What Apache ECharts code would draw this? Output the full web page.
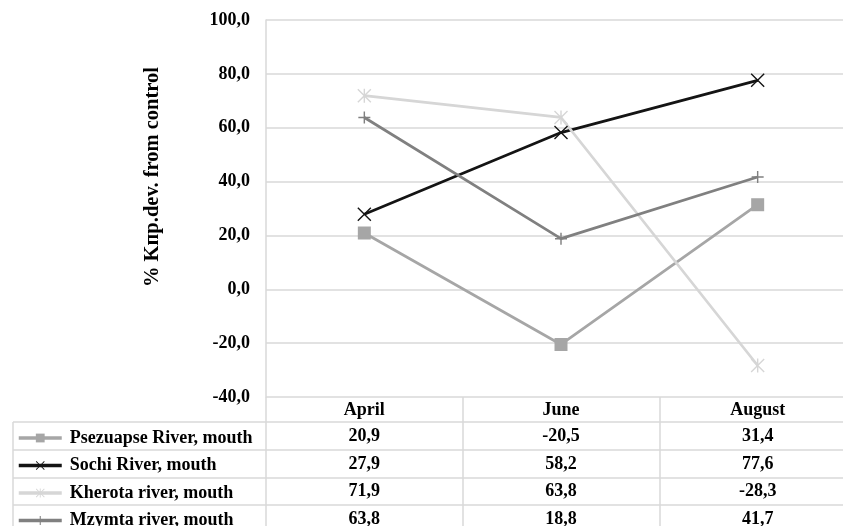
<!DOCTYPE html>
<html>
<head>
<meta charset="utf-8">
<script src="https://cdn.jsdelivr.net/npm/echarts@6/dist/echarts.min.js"></script>
<style>
  html, body { margin: 0; padding: 0; background: #fff; }
  #chart { width: 843px; height: 526px; }
</style>
</head>
<body>
<div id="chart"></div>
<script>
// Months (table columns) and station series
const months = ['April', 'June', 'August'];
const seriesNames = [
  'Psezuapse River, mouth',
  'Sochi River, mouth',
  'Kherota river, mouth',
  'Mzymta river, mouth'
];
const psezuapse = [20.9, -20.5, 31.4];
const sochi = [27.9, 58.2, 77.6];
const kherota = [71.9, 63.8, -28.3];
const mzymta = [63.8, 18.8, 41.7];
const yTicks = { min: -40, max: 100, step: 20 };
const yTitle = '% Kпр.dev. from control';

const seriesValues = [psezuapse, sochi, kherota, mzymta];
const seriesColors = ['#a6a6a6', '#141414', '#d6d6d6', '#808080'];

// Marker shapes
const SYM_X = 'path://M0,1.4L1.4,0L10,8.6L18.6,0L20,1.4L11.4,10L20,18.6L18.6,20L10,11.4L1.4,20L0,18.6L8.6,10Z';
const SYM_PLUS = 'path://M8.8,0L11.2,0L11.2,8.8L20,8.8L20,11.2L11.2,11.2L11.2,20L8.8,20L8.8,11.2L0,11.2L0,8.8L8.8,8.8Z';
const SYM_STAR = 'path://M0,1.4L1.4,0L10,8.6L18.6,0L20,1.4L11.4,10L20,18.6L18.6,20L10,11.4L1.4,20L0,18.6L8.6,10Z M9,0L11,0L11,20L9,20Z';
const symbols = ['rect', SYM_X, SYM_STAR, SYM_PLUS];
const symbolSizes = [13, 14, 14, 12];

const fmt = v => v.toFixed(1).replace('.', ',');
const FONT = 'Liberation Serif';
const FONT_SIZE = 18;
const GRID_LINE = '#d9d9d9';

// Layout of the plot and the data table below it
const PLOT_LEFT = 266, PLOT_TOP = 20, PLOT_BOTTOM_Y = 397, PLOT_WIDTH = 590;
const rowCenters = [436.5, 464, 491.5, 519];
const rowLines = [422, 450, 478, 505];

const chart = echarts.init(document.getElementById('chart'), null, { renderer: 'canvas' });

const labelFont = { fontFamily: FONT, fontWeight: 'bold', fontSize: FONT_SIZE, color: '#000' };

// Category axis for the header row, and one line-less axis per table row
const xAxes = [{
  type: 'category',
  data: months,
  position: 'bottom',
  boundaryGap: true,
  axisLine: { show: false, onZero: false },
  axisTick: { show: true, length: 130, lineStyle: { color: GRID_LINE, width: 1.5 } },
  axisLabel: Object.assign({ interval: 0, margin: 13, verticalAlign: 'middle' }, labelFont)
}];
seriesValues.forEach((vals, i) => {
  xAxes.push({
    type: 'category',
    data: vals.map(fmt),
    position: 'bottom',
    offset: 0,
    boundaryGap: true,
    axisLine: { show: false, onZero: false },
    axisTick: { show: false },
    splitLine: { show: false },
    axisLabel: Object.assign({
      interval: 0, margin: rowCenters[i] - PLOT_BOTTOM_Y, verticalAlign: 'middle'
    }, labelFont)
  });
});

const graphics = [
  {
    type: 'text', x: 153, y: 177, rotation: Math.PI / 2,
    style: {
      text: yTitle, x: 0, y: 0, align: 'center', verticalAlign: 'middle',
      font: 'bold 20.5px "Liberation Serif"', fill: '#000'
    }
  },
  {
    type: 'line', shape: { x1: 13, y1: rowLines[0], x2: 13, y2: 526 },
    style: { stroke: GRID_LINE, lineWidth: 1.5 }
  }
];
rowLines.forEach(y => {
  graphics.push({
    type: 'line', shape: { x1: 13, y1: y, x2: 843, y2: y },
    style: { stroke: GRID_LINE, lineWidth: 1.5 }
  });
});

const option = {
  backgroundColor: '#fff',
  animation: false,
  grid: {
    left: PLOT_LEFT, top: PLOT_TOP, width: PLOT_WIDTH,
    height: PLOT_BOTTOM_Y - PLOT_TOP,
    containLabel: false, outerBoundsMode: 'none'
  },
  legend: {
    orient: 'vertical',
    left: 17, top: rowCenters[0] - 7.5,
    height: 200,
    padding: 0,
    itemWidth: 43, itemHeight: 11,
    itemGap: 9.5,
    data: seriesNames,
    lineStyle: { width: 3.5 },
    textStyle: Object.assign({ padding: [0, 0, 0, 3] }, labelFont)
  },
  xAxis: xAxes,
  yAxis: {
    type: 'value',
    min: yTicks.min, max: yTicks.max, interval: yTicks.step,
    axisLine: { show: true, lineStyle: { color: GRID_LINE, width: 1.5 } },
    axisTick: { show: false },
    splitLine: { show: true, lineStyle: { color: GRID_LINE, width: 1.5 } },
    axisLabel: Object.assign({ margin: 16, formatter: fmt }, labelFont)
  },
  graphic: graphics,
  series: seriesNames.map((name, i) => ({
    name,
    type: 'line',
    xAxisIndex: 0,
    data: seriesValues[i],
    symbol: symbols[i],
    symbolSize: symbolSizes[i],
    showAllSymbol: true,
    color: seriesColors[i],
    lineStyle: { color: seriesColors[i], width: 2.75 },
    itemStyle: { color: seriesColors[i] }
  }))
};

chart.setOption(option);
</script>
</body>
</html>
